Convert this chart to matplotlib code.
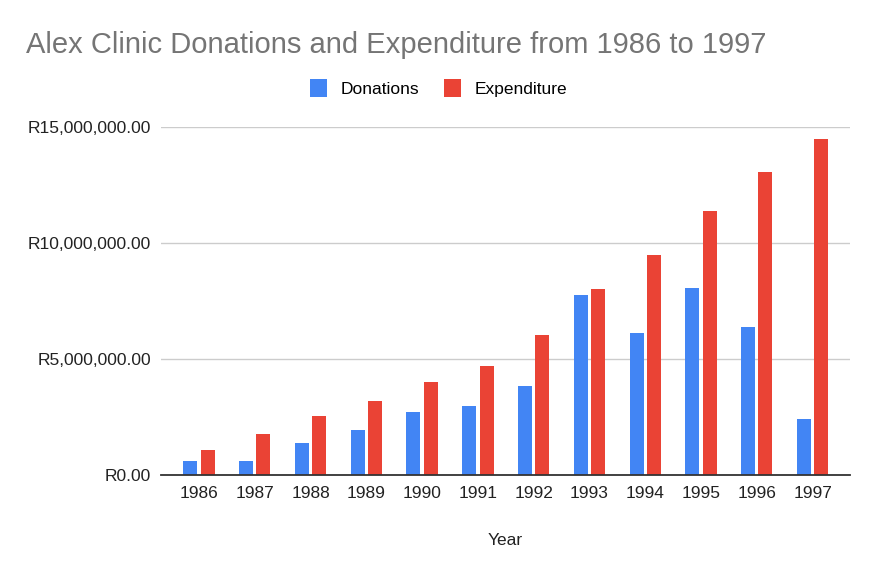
import matplotlib
matplotlib.use("Agg")
import matplotlib.pyplot as plt
import numpy as np
from matplotlib.ticker import FuncFormatter

plt.rcParams['font.family'] = ['Liberation Sans', 'DejaVu Sans']

years = ['1986', '1987', '1988', '1989', '1990', '1991', '1992', '1993', '1994', '1995', '1996', '1997']
donations = [610000, 610000, 1360000, 1960000, 2700000, 2990000, 3840000, 7750000, 6140000, 8080000, 6380000, 2430000]
expenditure = [1080000, 1780000, 2530000, 3180000, 4000000, 4680000, 6050000, 8000000, 9500000, 11380000, 13050000, 14470000]
y_ticks = [0, 5000000, 10000000, 15000000]

fig = plt.figure(figsize=(8.77, 5.79), dpi=100)
ax = fig.add_axes([0.1836, 0.1796, 0.7856, 0.6011])

x = np.arange(len(years))
w = 0.25
ax.bar(x - 0.155, donations, w, color='#4285F4', label='Donations', zorder=3)
ax.bar(x + 0.155, expenditure, w, color='#EA4335', label='Expenditure', zorder=3)

ax.set_xlim(-0.68, 11.67)
ax.set_ylim(0, 15000000)
ax.set_xticks(x)
ax.set_xticklabels(years)
ax.set_yticks(y_ticks)
ax.yaxis.set_major_formatter(FuncFormatter(lambda v, p: 'R{:,.2f}'.format(v)))
ax.tick_params(axis='both', length=0, labelsize=12.5, colors='#222222')
ax.tick_params(axis='y', pad=7)
ax.tick_params(axis='x', pad=8)

ax.grid(axis='y', color='#cccccc', linewidth=1, zorder=0)
for s in ['top', 'right', 'left']:
    ax.spines[s].set_visible(False)
ax.spines['bottom'].set_color('#333333')
ax.spines['bottom'].set_linewidth(1.3)
ax.spines['bottom'].set_zorder(4)

ax.set_xlabel('Year', fontsize=12.5, color='#222222', labelpad=23)

fig.text(0.030, 1 - 53 / 579, 'Alex Clinic Donations and Expenditure from 1986 to 1997',
         fontsize=21, color='#757575', ha='left', va='baseline')

fig.legend(loc='center', bbox_to_anchor=(0.5, 1 - 88 / 579), ncol=2, frameon=False,
           fontsize=12.5, handlelength=1.0, handleheight=1.2, handletextpad=0.75,
           columnspacing=1.45)

fig.savefig('out.png', dpi=100)
